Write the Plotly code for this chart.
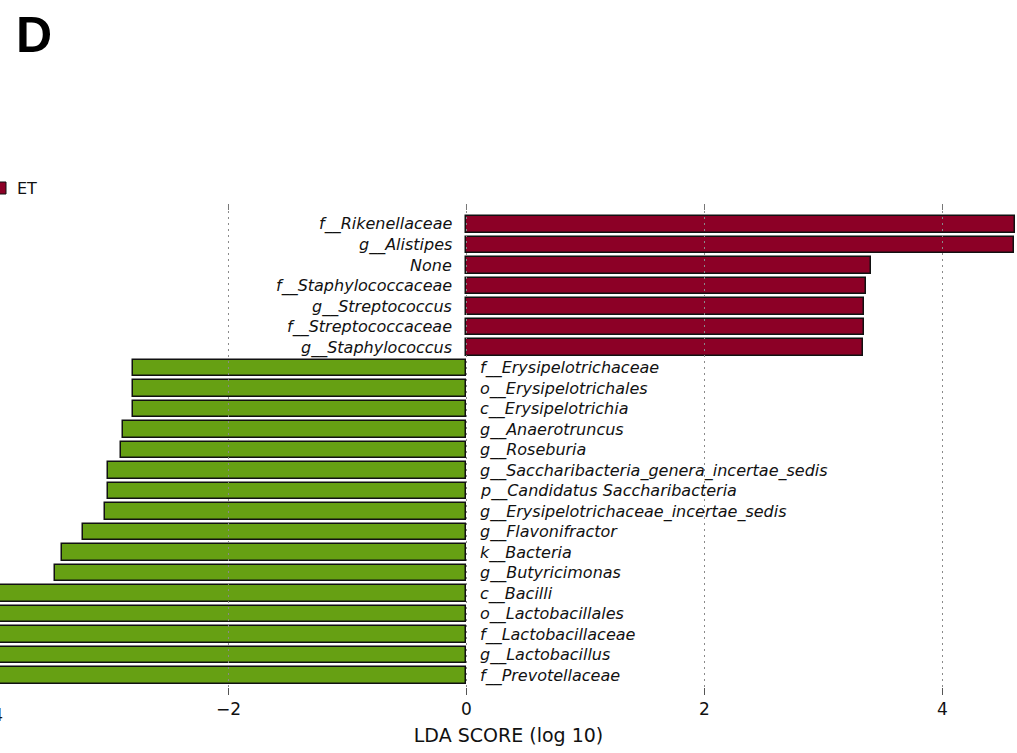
import plotly.graph_objects as go

# LDA effect sizes, top-to-bottom order
et_taxa = ["f__Rikenellaceae", "g__Alistipes", "None", "f__Staphylococcaceae",
           "g__Streptococcus", "f__Streptococcaceae", "g__Staphylococcus"]
et_lda = [4.61, 4.60, 3.40, 3.36, 3.34, 3.34, 3.33]

other_taxa = ["f__Erysipelotrichaceae", "o__Erysipelotrichales", "c__Erysipelotrichia",
              "g__Anaerotruncus", "g__Roseburia", "g__Saccharibacteria_genera_incertae_sedis",
              "p__Candidatus Saccharibacteria", "g__Erysipelotrichaceae_incertae_sedis",
              "g__Flavonifractor", "k__Bacteria", "g__Butyricimonas", "c__Bacilli",
              "o__Lactobacillales", "f__Lactobacillaceae", "g__Lactobacillus", "f__Prevotellaceae"]
other_lda = [-2.80, -2.80, -2.80, -2.89, -2.90, -3.01, -3.01, -3.04,
             -3.22, -3.40, -3.46, -4.05, -4.08, -4.10, -4.12, -4.25]

tick_vals = [-4, -2, 0, 2, 4]
tick_text = ["\u22124", "\u22122", "0", "2", "4"]

RED = "#8C0026"
GREEN = "#66A013"
W, H = 1017, 753
M_T, M_B = 210, 66
X_RANGE = [-3.92, 4.626]

et_pos = list(range(len(et_taxa)))
other_pos = list(range(len(et_taxa), len(et_taxa) + len(other_taxa)))
n_rows = len(et_taxa) + len(other_taxa)

fig = go.Figure()
fig.add_trace(go.Bar(x=et_lda, y=et_pos, orientation="h", width=0.82, name="ET",
                     marker=dict(color=RED, line=dict(color="#111111", width=1.5))))
fig.add_trace(go.Bar(x=other_lda, y=other_pos, orientation="h", width=0.82,
                     marker=dict(color=GREEN, line=dict(color="#111111", width=1.5))))

label_font = dict(family="DejaVu Sans", size=16, color="#111111")
annotations = []
for name, v, p in zip(et_taxa + other_taxa, et_lda + other_lda, et_pos + other_pos):
    right_side = v < 0
    annotations.append(dict(
        x=0, y=p, xref="x", yref="y", text=f"<i>{name}</i>", showarrow=False,
        xanchor="left" if right_side else "right", yanchor="middle",
        xshift=12 if right_side else -12, font=label_font))

plot_h = H - M_T - M_B
x_scale = W / (X_RANGE[1] - X_RANGE[0])


def px(xp, yp):
    return xp / W, (H - M_B - yp) / plot_h


# tick label for -4 sits just past the left edge of the plot
m4x = (tick_vals[0] - X_RANGE[0]) * x_scale / W
annotations.append(dict(x=m4x, y=0, xref="paper", yref="paper", yshift=-16, text=tick_text[0],
                        showarrow=False, xanchor="center", yanchor="top",
                        font=dict(family="DejaVu Sans", size=17, color="#111111")))

# panel letter
lx, ly = px(14, 5)
annotations.append(dict(x=lx, y=ly, xref="paper", yref="paper", text="<b>D</b>",
                        showarrow=False, xanchor="left", yanchor="top",
                        font=dict(family="Liberation Sans", size=50, color="#000000")))

# legend entry
ex, ey = px(15, 188)
annotations.append(dict(x=ex, y=ey, xref="paper", yref="paper", text="ET",
                        showarrow=False, xanchor="left", yanchor="middle",
                        font=dict(family="DejaVu Sans", size=16, color="#111111")))

shapes = []
sx0, sy0 = px(-6, 182)
sx1, sy1 = px(6, 194)
shapes.append(dict(type="rect", xref="paper", yref="paper", x0=sx0, x1=sx1, y0=sy1, y1=sy0,
                   fillcolor=RED, line=dict(color="#111111", width=1)))

# dotted grid drawn over the bars, with short tick marks on top
tick_top = 6 / plot_h
for t in tick_vals:
    shapes.append(dict(type="line", xref="x", yref="paper", x0=t, x1=t, y0=0, y1=1,
                       layer="above", line=dict(color="#8a8a8a", width=1, dash="2px,4px")))
    shapes.append(dict(type="line", xref="x", yref="paper", x0=t, x1=t, y0=1, y1=1 + tick_top,
                       layer="above", line=dict(color="#777777", width=1)))

fig.update_layout(
    width=W, height=H,
    margin=dict(l=0, r=0, t=M_T, b=M_B, pad=0),
    plot_bgcolor="white", paper_bgcolor="white",
    showlegend=False, bargap=0,
    annotations=annotations, shapes=shapes,
    font=dict(family="DejaVu Sans", color="#111111"),
    xaxis=dict(range=X_RANGE, tickvals=tick_vals, ticktext=tick_text,
               ticks="outside", ticklen=7, tickwidth=1, tickcolor="#555555",
               showgrid=False, zeroline=False, showline=False,
               tickfont=dict(size=17, color="#111111"),
               title=dict(text="LDA SCORE (log 10)", font=dict(size=19, color="#111111"),
                          standoff=10)),
    yaxis=dict(range=[n_rows - 0.44, -0.707], visible=False, showgrid=False, zeroline=False),
)

fig.write_html("out.html")
